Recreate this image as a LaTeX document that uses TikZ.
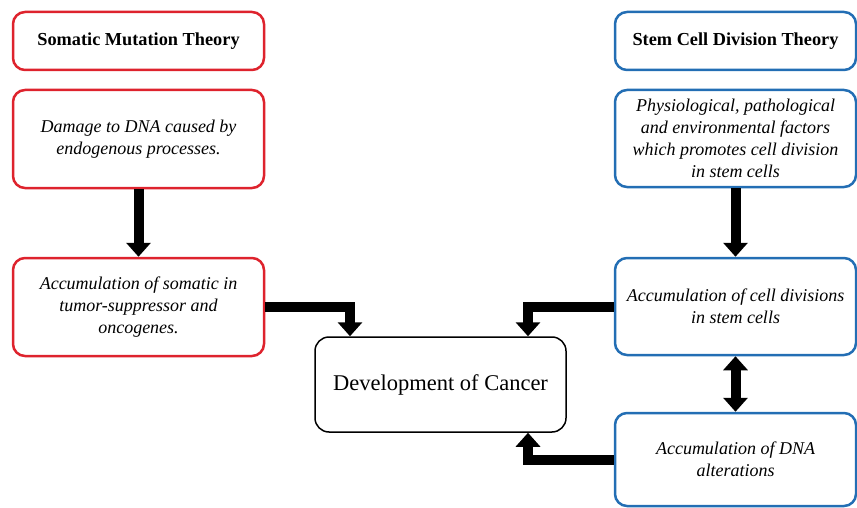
\documentclass[tikz,border=0pt]{standalone}
\usepackage{fontspec}
\setmainfont{Liberation Serif}
\usetikzlibrary{arrows.meta}
\definecolor{boxred}{RGB}{222,35,45}
\definecolor{boxblue}{RGB}{35,110,180}

\begin{document}
\begin{tikzpicture}[x=1pt,y=-1pt]
        \tikzstyle{every node}=[rectangle,rounded corners=12pt,line width=2.5pt,align=center,inner sep=0pt,minimum width=251pt]
        \tikzstyle{redbox}=[draw=boxred]
        \tikzstyle{bluebox}=[draw=boxblue,minimum width=241pt]
        \tikzstyle{title}=[font=\fontsize{18.3}{21}\selectfont\bfseries,minimum height=58pt]
        \tikzstyle{body}=[font=\fontsize{18}{22}\selectfont\itshape]
        \tikzstyle{fat}=[line width=10pt,-{Triangle[width=24pt,length=14pt]}]
        \useasboundingbox (0,0) rectangle (857,508);

            % somatic mutation side
            \node[redbox,title] (soma) at (138.5,41) {Somatic Mutation Theory};
            \node[redbox,body,minimum height=98pt] (damage) at (138.5,139) {Damage to DNA caused by\\endogenous processes.};
            \node[redbox,body,minimum height=98pt] (somacc) at (138.5,307) {Accumulation of somatic in\\tumor-suppressor and\\oncogenes.};

            % stem cell side
            \node[bluebox,title] (stem) at (735.5,41) {Stem Cell Division Theory};
            \node[bluebox,body,minimum height=97pt] (physio) at (735.5,138.5) {Physiological, pathological\\and environmental factors\\which promotes cell division\\in stem cells};
            \node[bluebox,body,minimum height=97pt] (cells) at (735.5,306.5) {Accumulation of cell divisions\\in stem cells};
            \node[bluebox,body,minimum height=93pt] (dna) at (735.5,459.5) {Accumulation of DNA\\alterations};

            \node[draw=black,line width=1.5pt,rounded corners=14pt,minimum height=95pt,font=\fontsize{22.5}{26}\selectfont] (dev) at (440.5,384.5) {Development of Cancer};

            \coordinate (inL) at (350,0);
            \coordinate (inR) at (528,0);

            \draw[fat] (damage) -- (somacc);
            \draw[fat] (physio) -- (cells);
            \draw[line width=10pt,{Triangle[width=24pt,length=14pt]}-{Triangle[width=24pt,length=14pt]}] (cells) -- (dna);
            \draw[fat] (somacc.east) -| (inL |- dev.north);
            \draw[fat] (cells.west) -| (inR |- dev.north);
            \draw[fat] (dna.west) -| (inR |- dev.south);
        \end{tikzpicture}
\end{document}
